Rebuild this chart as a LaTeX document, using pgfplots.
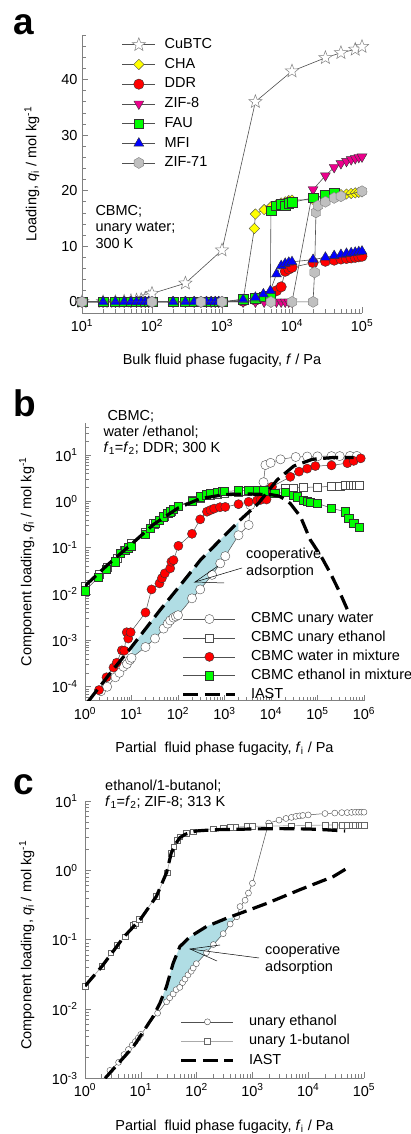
\documentclass[border=0pt]{standalone}
\usepackage{fontspec}
\setmainfont{Liberation Sans}
\usepackage{pgfplots}
\pgfplotsset{compat=1.18}

\definecolor{shade}{RGB}{176,221,228}
\definecolor{axgray}{RGB}{128,128,128}
\definecolor{lngray}{RGB}{80,80,80}
\definecolor{ltgray}{RGB}{170,170,170}
\definecolor{hexgray}{RGB}{192,192,192}
\definecolor{mygreen}{RGB}{0,255,0}
\definecolor{myyellow}{RGB}{255,255,0}

\pgfdeclareplotmark{fivestar}{%
  \pgfpathmoveto{\pgfpointpolar{90}{\pgfplotmarksize}}%
  \pgfpathlineto{\pgfpointpolar{126}{0.42\pgfplotmarksize}}%
  \pgfpathlineto{\pgfpointpolar{162}{\pgfplotmarksize}}%
  \pgfpathlineto{\pgfpointpolar{198}{0.42\pgfplotmarksize}}%
  \pgfpathlineto{\pgfpointpolar{234}{\pgfplotmarksize}}%
  \pgfpathlineto{\pgfpointpolar{270}{0.42\pgfplotmarksize}}%
  \pgfpathlineto{\pgfpointpolar{306}{\pgfplotmarksize}}%
  \pgfpathlineto{\pgfpointpolar{342}{0.42\pgfplotmarksize}}%
  \pgfpathlineto{\pgfpointpolar{18}{\pgfplotmarksize}}%
  \pgfpathlineto{\pgfpointpolar{54}{0.42\pgfplotmarksize}}%
  \pgfpathclose
  \pgfusepathqfillstroke}
\pgfdeclareplotmark{hexa}{%
  \pgfpathmoveto{\pgfpointpolar{30}{\pgfplotmarksize}}%
  \pgfpathlineto{\pgfpointpolar{90}{\pgfplotmarksize}}%
  \pgfpathlineto{\pgfpointpolar{150}{\pgfplotmarksize}}%
  \pgfpathlineto{\pgfpointpolar{210}{\pgfplotmarksize}}%
  \pgfpathlineto{\pgfpointpolar{270}{\pgfplotmarksize}}%
  \pgfpathlineto{\pgfpointpolar{330}{\pgfplotmarksize}}%
  \pgfpathclose
  \pgfusepathqfillstroke}
\pgfdeclareplotmark{sqdiamond}{%
  \pgfpathmoveto{\pgfpointpolar{0}{\pgfplotmarksize}}%
  \pgfpathlineto{\pgfpointpolar{90}{\pgfplotmarksize}}%
  \pgfpathlineto{\pgfpointpolar{180}{\pgfplotmarksize}}%
  \pgfpathlineto{\pgfpointpolar{270}{\pgfplotmarksize}}%
  \pgfpathclose
  \pgfusepathqfillstroke}

\newcommand\fs{\fontsize{14.5bp}{17bp}\selectfont}
\newcommand\sub[1]{\textsubscript{#1}}
\newcommand\sups[1]{\textsuperscript{#1}}

\pgfplotsset{
  myaxis/.style={
    scale only axis,
    axis lines*=left,
    axis line style={axgray, line width=0.8bp},
    every tick/.style={axgray, line width=0.6bp},
    tick align=inside,
    major tick length=6bp,
    minor tick length=4bp,
    tick label style={font=\fs},
    clip mode=individual,
    legend cell align=left,
    every axis x label/.style={at={(axis description cs:0.5,-0.173)}, anchor=center, font=\fs},
  },
  dashiast/.style={black, line width=3.2bp, dash pattern=on 15bp off 6.5bp, no marks},
}

\begin{document}
\begin{tikzpicture}
\useasboundingbox (0,0) rectangle (411bp,1134bp);

% ================= panel a =================
\begin{axis}[myaxis,
  at={(82bp,821bp)}, anchor=south west,
  width=280bp, height=278bp,
  xmode=log, xmin=10, xmax=100000, ymin=-2, ymax=48,
  xtick={10,100,1000,10000,100000},
  xticklabels={10\sups{1},10\sups{2},10\sups{3},10\sups{4},10\sups{5}},
  minor xtick={20,30,40,50,60,70,80,90,200,300,400,500,600,700,800,900,2000,3000,4000,5000,6000,7000,8000,9000,20000,30000,40000,50000,60000,70000,80000,90000},
  ytick={0,10,20,30,40},
  yticklabels={0,10,20,30,40},
  minor ytick={2,4,6,8,12,14,16,18,22,24,26,28,32,34,36,38,42,44,46,48},
  xticklabel style={yshift=-3bp},
  yticklabel style={xshift=-1bp},
  xlabel={Bulk fluid phase fugacity, \textit{f} / Pa},
  every axis y label/.style={at={(axis description cs:-0.179,0.5)}, rotate=90, anchor=center, font=\fs},
  ylabel={Loading, \textit{q}\sub{i} / mol kg\sups{-1}},
  legend image code/.code={\draw[mark repeat=2,mark phase=2,#1] plot coordinates {(0bp,0bp)(16.5bp,0bp)(33bp,0bp)};},
  legend style={draw=none, fill=none, inner sep=0pt, outer sep=0pt, font=\fs, row sep=6.2bp,
    nodes={inner sep=0pt, text height=10.5bp, text depth=3bp},
    /tikz/every odd column/.append style={column sep=9bp},
    at={(axis description cs:0.143,0.99)}, anchor=north west},
]
\addplot[lngray, line width=0.6bp, mark=fivestar, mark size=7bp, mark options={fill=white, draw=gray, line width=0.5bp}] coordinates {
(10,0)(20,0)(30,0)(40,0.1)(50,0.2)(60,0.3)(70,0.4)(80,0.6)(90,0.9)(100,1.5)(300,3.35)(1000,9.3)(3000,36.0)(10000,41.5)(30000,43.9)(50000,44.8)(80000,45.4)(100000,45.9)};
\addlegendentry{CuBTC}
\addplot[lngray, line width=0.6bp, mark=sqdiamond, mark size=5.2bp, mark options={fill=myyellow, draw=black!70, line width=0.4bp}] coordinates {
(10,0)(20,0)(30,0)(40,0)(50,0)(60,0)(70,0)(80,0)(90,0)(100,0)(200,0)(300,0)(400,0)(500,0)(600,0)(700,0)(800,0)(900,0)(1000,0)(2000,0.2)(2900,13.2)(3000,15.8)(4000,16.6)(5000,17.1)(6000,17.5)(7000,17.8)(8000,18.0)(9000,18.2)(10000,18.3)(20000,18.4)(30000,19.0)(40000,19.2)(50000,19.3)(60000,19.4)(70000,19.5)(80000,19.6)(90000,19.7)(100000,19.8)};
\addlegendentry{CHA}
\addplot[lngray, line width=0.6bp, mark=*, mark size=5.2bp, mark options={fill=red, draw=black!80, line width=0.4bp}] coordinates {
(10,0)(20,0)(30,0)(40,0)(50,0)(60,0)(70,0)(80,0)(90,0)(100,0)(200,0)(300,0)(400,0)(500,0)(600,0)(700,0)(800,0)(900,0)(1000,0)(2000,0.1)(3000,0.3)(4000,0.6)(5000,1.1)(6000,2.0)(7000,2.7)(8000,5.5)(9000,5.9)(10000,6.2)(20000,7.05)(30000,7.3)(40000,7.5)(50000,7.7)(60000,7.8)(70000,7.9)(80000,8.0)(90000,8.1)(100000,8.2)};
\addlegendentry{DDR}
\addplot[lngray, line width=0.6bp, mark=triangle*, mark size=5.7bp, mark options={rotate=180, fill=magenta, draw=black!80, line width=0.4bp}] coordinates {
(10,0)(20,0)(30,0)(40,0)(50,0)(60,0)(70,0)(80,0)(90,0)(100,0)(200,0)(300,0)(400,0)(500,0)(600,0)(700,0)(800,0)(900,0)(1000,0)(2000,0)(3000,0)(4000,0)(5000,0)(6000,0)(7000,0)(8000,0)(9000,0)(10000,0)(20000,20.2)(30000,22.7)(40000,24.2)(50000,24.9)(60000,25.3)(70000,25.6)(80000,25.8)(90000,26.0)(100000,26.1)};
\addlegendentry{ZIF-8}
\addplot[lngray, line width=0.6bp, mark=square*, mark size=4.8bp, mark options={fill=mygreen, draw=black!80, line width=0.4bp}] coordinates {
(10,0)(20,0)(30,0)(40,0)(50,0)(60,0)(70,0)(80,0)(90,0)(100,0)(200,0)(300,0)(400,0)(500,0)(600,0)(700,0)(800,0)(900,0)(1000,0)(2000,0.5)(3000,0.7)(4000,0.9)(4900,1.1)(5000,16.4)(6000,17.3)(7000,17.6)(8000,17.3)(9000,17.8)(10000,17.9)(20000,18.7)(30000,19.2)(40000,19.6)};
\addlegendentry{FAU}
\addplot[lngray, line width=0.6bp, mark=triangle*, mark size=5.7bp, mark options={fill=blue, draw=black!80, line width=0.4bp}] coordinates {
(10,0)(20,0)(30,0)(40,0)(50,0)(60,0)(70,0)(80,0)(90,0)(100,0)(200,0)(300,0)(400,0)(500,0)(600,0)(700,0)(800,0)(900,0)(1000,0)(2000,0.4)(3000,0.8)(3900,1.4)(4900,2.0)(6000,5.0)(7000,6.5)(8000,6.9)(9000,7.1)(10000,7.2)(20000,7.6)(30000,8.0)(40000,8.3)(50000,8.5)(60000,8.7)(70000,8.8)(80000,8.9)(90000,9.0)(100000,9.1)};
\addlegendentry{MFI}
\addplot[lngray, line width=0.6bp, mark=hexa, mark size=5.5bp, mark options={fill=hexgray, draw=gray, line width=0.4bp}] coordinates {
(10,0)(100,0)(500,0)(1000,0)(5000,0)(10000,0)(20000,0)(21000,5.3)(22000,16.1)(23500,17.3)(30000,18.0)(40000,18.7)(50000,19.0)(100000,19.9)};
\addlegendentry{ZIF-71}
\end{axis}
\node[font=\fs, anchor=base west] at (92bp,918bp) {CBMC;};
\node[font=\fs, anchor=base west] at (92bp,902bp) {unary water;};
\node[font=\fs, anchor=base west] at (92bp,885.7bp) {300 K};
\node[font=\fontsize{37bp}{40bp}\selectfont\bfseries, anchor=base west] at (10bp,1099bp) {a};

% ================= panel b =================
\begin{axis}[myaxis,
  at={(85bp,433.3bp)}, anchor=south west,
  width=279bp, height=278bp,
  xmode=log, ymode=log, xmin=1, xmax=1000000, ymin=5e-5, ymax=50,
  xtick={1,10,100,1000,10000,100000,1000000},
  xticklabels={10\sups{0},10\sups{1},10\sups{2},10\sups{3},10\sups{4},10\sups{5},10\sups{6}},
  minor xtick={2,3,4,5,6,7,8,9,20,30,40,50,60,70,80,90,200,300,400,500,600,700,800,900,2000,3000,4000,5000,6000,7000,8000,9000,20000,30000,40000,50000,60000,70000,80000,90000,200000,300000,400000,500000,600000,700000,800000,900000},
  ytick={1e-4,1e-3,1e-2,1e-1,1,10},
  yticklabels={10\sups{-4},10\sups{-3},10\sups{-2},10\sups{-1},10\sups{0},10\sups{1}},
  minor ytick={6e-5,7e-5,8e-5,9e-5,2e-4,3e-4,4e-4,5e-4,6e-4,7e-4,8e-4,9e-4,2e-3,3e-3,4e-3,5e-3,6e-3,7e-3,8e-3,9e-3,2e-2,3e-2,4e-2,5e-2,6e-2,7e-2,8e-2,9e-2,0.2,0.3,0.4,0.5,0.6,0.7,0.8,0.9,2,3,4,5,6,7,8,9,20,30,40},
  xticklabel style={yshift=-3bp},
  yticklabel style={xshift=-4bp},
  xlabel={Partial\ \ fluid phase fugacity, \textit{f}\sub{i} / Pa},
  every axis y label/.style={at={(axis description cs:-0.209,0.5)}, rotate=90, anchor=center, font=\fs},
  ylabel={Component loading, \textit{q}\sub{i} / mol kg\sups{-1}},
  legend image code/.code={\draw[mark repeat=2,mark phase=2,#1] plot coordinates {(0bp,0bp)(26bp,0bp)(52bp,0bp)};},
  legend style={draw=none, fill=none, inner sep=0pt, outer sep=0pt, font=\fs, row sep=5.4bp,
    nodes={inner sep=0pt, text height=10.5bp, text depth=3bp},
    /tikz/every odd column/.append style={column sep=14bp},
    at={(axis description cs:0.347,0.318)}, anchor=north west},
]
\addplot[fill=shade, draw=none, forget plot] coordinates {
(10,7.2e-4)(41.7,4.6e-3)(112,0.0155)(302,0.054)(813,0.148)(2000,0.36)
(2000,0.186)(1040,0.066)(810,0.046)(540,0.026)(300,0.0126)(200,0.0081)(100,0.0035)(68,0.0027)(49,0.0018)(32,0.0011)(20,7.2e-4)(10,4.2e-4)} --cycle;
\addplot[lngray, line width=0.5bp, mark=*, mark size=4.6bp, mark options={fill=white, draw=black!70, line width=0.4bp}] coordinates {
(2.2,8e-5)(3,1.0e-4)(4.5,1.6e-4)(5.5,2.0e-4)(6.7,2.7e-4)(8,3.1e-4)(9.3,3.8e-4)(10,4.2e-4)(20,7.2e-4)(32,1.1e-3)(49,1.8e-3)(60,2.3e-3)(68,2.7e-3)(80,3.1e-3)(90,3.3e-3)(100,3.5e-3)(200,8.1e-3)(300,1.26e-2)(540,2.6e-2)(810,4.6e-2)(1040,6.6e-2)(2000,0.186)(3300,0.31)(3600,0.83)(6900,2.6)(7600,6.1)(9800,6.8)(16000,8.1)(34000,9.1)(60000,9.3)(100000,9.4)(200000,9.5)(300000,9.5)(500000,9.6)(700000,9.6)};
\addlegendentry{CBMC unary water}
\addplot[lngray, line width=0.5bp, mark=square*, mark size=4.1bp, mark options={fill=white, draw=black!70, line width=0.4bp}] coordinates {
(1,0.015)(2,0.027)(3,0.038)(5,0.06)(7,0.09)(10,0.125)(20,0.22)(30,0.33)(50,0.48)(70,0.62)(100,0.8)(200,1.05)(300,1.2)(500,1.35)(700,1.45)(1000,1.5)(2000,1.6)(3000,1.65)(5000,1.7)(10000,1.8)(20000,1.9)(30000,1.95)(50000,2.0)(100000,2.05)(200000,2.1)(300000,2.15)(400000,2.2)(500000,2.2)(600000,2.2)(700000,2.25)(800000,2.25)};
\addlegendentry{CBMC unary ethanol}
\addplot[lngray, line width=0.5bp, mark=*, mark size=4.6bp, mark options={fill=red, draw=black!80, line width=0.4bp}] coordinates {
(2,8.5e-5)(2.9,1.6e-4)(4.1,2.6e-4)(4.8,3.3e-4)(6.2,6.1e-4)(7,6.0e-4)(7.9,1.5e-3)(8.5,1.1e-3)(9.6,1.5e-3)(20,4.0e-3)(27,0.0126)(40,0.017)(45,0.022)(52,0.028)(68,0.036)(72,0.05)(80,0.054)(102,0.11)(200,0.2)(300,0.41)(420,0.6)(500,0.65)(600,0.7)(800,0.75)(1040,0.76)(2000,0.87)(3300,0.98)(5000,1.05)(6000,1.08)(8000,1.1)(9500,1.74)(10500,2.07)(26000,3.4)(40000,4.4)(60000,5.1)(90000,5.8)(200000,6.0)(440000,6.7)(600000,7.5)(850000,8.5)};
\addlegendentry{CBMC water in mixture}
\addplot[lngray, line width=0.5bp, mark=square*, mark size=4.1bp, mark options={fill=mygreen, draw=black!80, line width=0.4bp}] coordinates {
(1,0.0118)(1.94,0.023)(2.9,0.035)(4.4,0.05)(5.7,0.075)(7.2,0.09)(8.5,0.1)(10,0.11)(19.6,0.2)(25,0.26)(32,0.34)(40,0.4)(49,0.47)(60,0.55)(68,0.6)(80,0.68)(100,0.78)(200,1.0)(300,1.27)(400,1.4)(500,1.5)(700,1.6)(900,1.65)(1000,1.65)(2000,1.7)(3300,1.75)(5000,1.75)(7000,1.7)(12000,1.5)(20000,1.55)(30000,1.35)(36000,1.26)(50000,1.07)(60000,1.0)(70000,0.95)(100000,0.91)(200000,0.71)(400000,0.6)(470000,0.43)(600000,0.34)(780000,0.28)};
\addlegendentry{CBMC ethanol in mixture}
\addplot[dashiast] coordinates {
(1.17,4.8e-5)(3.47,1.95e-4)(10,7.2e-4)(41.7,4.6e-3)(112,0.0155)(302,0.054)(813,0.148)(2190,0.4)(5370,0.91)(13500,2.9)(30900,5.8)(77600,8.1)(224000,8.9)(600000,8.9)};
\addlegendentry{IAST}
\addplot[dashiast, forget plot] coordinates {
(1,0.015)(3,0.042)(10,0.12)(30,0.32)(100,0.72)(300,1.15)(1000,1.4)(3000,1.45)(10000,1.4)(15000,1.3)(20000,1.1)(26000,0.9)(43000,0.47)(70000,0.148)(120000,0.065)(190000,0.028)(300000,0.011)(440000,0.0046)};
\end{axis}
\node[font=\fs, anchor=base west] at (104bp,713.3bp) {CBMC;};
\node[font=\fs, anchor=base west] at (100bp,697.3bp) {water /ethanol;};
\node[font=\fs, anchor=base west] at (100bp,681.3bp) {\textit{f}\sub{1}=\textit{f}\sub{2}; DDR; 300 K};
\node[font=\fs, anchor=base west] at (242.7bp,575bp) {cooperative};
\node[font=\fs, anchor=base west] at (242.7bp,558.5bp) {adsorption};
\draw[black, line width=0.5bp] (242bp,566bp) -- (195bp,552bp) -- (218bp,568bp);
\draw[black, line width=0.5bp] (195bp,552bp) -- (224bp,551bp);
\node[font=\fontsize{37bp}{40bp}\selectfont\bfseries, anchor=base west] at (10bp,717bp) {b};

% ================= panel c =================
\begin{axis}[myaxis,
  at={(85bp,55.7bp)}, anchor=south west,
  width=279bp, height=277.3bp,
  xmode=log, ymode=log, xmin=1, xmax=100000, ymin=1e-3, ymax=10,
  xtick={1,10,100,1000,10000,100000},
  xticklabels={10\sups{0},10\sups{1},10\sups{2},10\sups{3},10\sups{4},10\sups{5}},
  minor xtick={2,3,4,5,6,7,8,9,20,30,40,50,60,70,80,90,200,300,400,500,600,700,800,900,2000,3000,4000,5000,6000,7000,8000,9000,20000,30000,40000,50000,60000,70000,80000,90000},
  ytick={1e-3,1e-2,1e-1,1,10},
  yticklabels={10\sups{-3},10\sups{-2},10\sups{-1},10\sups{0},10\sups{1}},
  minor ytick={2e-3,3e-3,4e-3,5e-3,6e-3,7e-3,8e-3,9e-3,2e-2,3e-2,4e-2,5e-2,6e-2,7e-2,8e-2,9e-2,0.2,0.3,0.4,0.5,0.6,0.7,0.8,0.9,2,3,4,5,6,7,8,9},
  xticklabel style={yshift=-2bp},
  yticklabel style={xshift=-4bp},
  xlabel={Partial\ \ fluid phase fugacity, \textit{f}\sub{i} / Pa},
  every axis y label/.style={at={(axis description cs:-0.209,0.48)}, rotate=90, anchor=center, font=\fs},
  ylabel={Component loading, \textit{q}\sub{i} / mol kg\sups{-1}},
  legend image code/.code={\draw[mark repeat=2,mark phase=2,#1] plot coordinates {(0bp,0bp)(26bp,0bp)(52bp,0bp)};},
  legend style={draw=none, fill=none, inner sep=0pt, outer sep=0pt, font=\fs, row sep=5.8bp,
    nodes={inner sep=0pt, text height=10.5bp, text depth=3bp},
    /tikz/every odd column/.append style={column sep=14bp},
    at={(axis description cs:0.34,0.228)}, anchor=north west},
]
\addplot[fill=shade, draw=none, forget plot] coordinates {
(25,0.016)(28.8,0.0209)(38,0.0457)(50.1,0.0794)(75.9,0.11)(151,0.155)(300,0.195)(450,0.21)
(450,0.19)(400,0.168)(300,0.122)(200,0.083)(99,0.045)(87,0.04)(70,0.031)(62,0.028)(50,0.0214)(38,0.0178)(29,0.0135)(25,0.012)} --cycle;
\addplot[lngray, line width=0.5bp, mark=*, mark size=3bp, mark options={fill=white, draw=black!70, line width=0.4bp}] coordinates {
(2.8,1.3e-3)(4,1.7e-3)(5,2.2e-3)(6,2.6e-3)(7,3.0e-3)(8,3.4e-3)(9,3.8e-3)(10,4.3e-3)(20,8.7e-3)(29,0.0127)(33,0.0145)(38,0.0165)(43,0.019)(50,0.0205)(56,0.024)(62,0.027)(70,0.031)(80,0.035)(87,0.039)(99,0.045)(150,0.065)(200,0.085)(300,0.122)(400,0.168)(525,0.214)(600,0.30)(740,0.37)(850,0.47)(1000,0.65)(1950,4.8)(3000,5.3)(4000,5.6)(5000,5.8)(6000,6.0)(7000,6.1)(8000,6.2)(10000,6.3)(20000,6.6)(30000,6.7)(40000,6.8)(50000,6.8)(60000,6.85)(70000,6.9)(80000,6.9)(90000,6.9)(100000,6.9)};
\addlegendentry{unary ethanol}
\addplot[ltgray, line width=0.7bp, mark=square*, mark size=2.8bp, mark options={fill=white, draw=black!60, line width=0.4bp}] coordinates {
(1,0.0214)(2,0.041)(2.9,0.065)(3.7,0.083)(5.2,0.11)(7.3,0.162)(8,0.17)(9.4,0.196)(19,0.42)(29.5,0.925)(35,1.76)(39,2.2)(45,2.7)(50,3.05)(65,3.4)(87,3.6)(200,4.0)(300,4.1)(400,4.15)(500,4.2)(800,4.3)(1000,4.3)(2000,4.35)(5000,4.4)(10000,4.45)(20000,4.5)(30000,4.5)(40000,4.5)(50000,4.5)(60000,4.5)(70000,4.5)(80000,4.5)(90000,4.5)(100000,4.5)};
\addlegendentry{unary 1-butanol}
\addplot[dashiast] coordinates {
(1,0.0214)(2,0.041)(5,0.11)(10,0.2)(19,0.42)(29,0.93)(35,1.76)(42,2.4)(50,2.95)(62,3.3)(80,3.55)(100,3.7)(200,3.85)(500,3.9)(1000,3.95)(3000,4.0)(10000,3.95)(20000,3.85)(46000,3.7)};
\addlegendentry{IAST}
\addplot[dashiast, forget plot] coordinates {
(2.29,1e-3)(7.41,2.88e-3)(16.6,7.76e-3)(21.9,0.012)(28.8,0.0209)(38,0.0457)(50.1,0.0794)(75.9,0.11)(151,0.155)(347,0.204)(603,0.24)(1820,0.334)(7080,0.525)(28200,0.813)(52500,1.10)};
\end{axis}
\node[font=\fs, anchor=base west] at (101.7bp,343.3bp) {ethanol/1-butanol;};
\node[font=\fs, anchor=base west] at (101.7bp,327.3bp) {\textit{f}\sub{1}=\textit{f}\sub{2}; ZIF-8; 313 K};
\node[font=\fs, anchor=base west] at (261.7bp,179bp) {cooperative};
\node[font=\fs, anchor=base west] at (261.7bp,162.5bp) {adsorption};
\draw[black, line width=0.5bp] (220bp,189bp) -- (190bp,185bp) -- (217bp,173bp);
\draw[black, line width=0.5bp] (190bp,185bp) -- (259bp,176bp);
\node[font=\fontsize{37bp}{40bp}\selectfont\bfseries, anchor=base west] at (10bp,339bp) {c};
\end{tikzpicture}
\end{document}
